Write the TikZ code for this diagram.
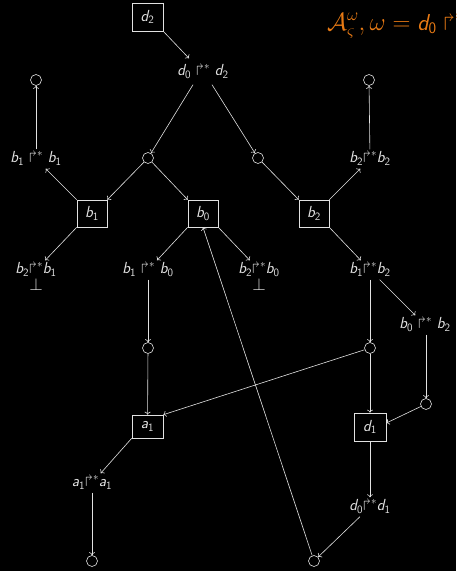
\documentclass[tikz,border=0pt]{standalone}
\usepackage{amsmath}
\usepackage{amssymb}
\usetikzlibrary{arrows.meta}
\definecolor{fg}{RGB}{225,225,225}
\definecolor{ttl}{RGB}{232,122,20}
\newcommand{\rr}{\mathrel{\Rsh^{*}}}
\newcommand{\rt}{{\Rsh^{*}}}
\newcommand{\V}[2]{\text{\itshape #1}_{\text{#2}}}
\begin{document}
\begin{tikzpicture}[x=1pt,y=-1pt,
  every node/.style={text=fg, font=\fontsize{16}{18}\selectfont\sffamily},
  box/.style={draw=fg, line width=0.6pt, inner sep=0pt, minimum width=30pt, minimum height=27pt},
  lab/.style={inner sep=2pt, text height=11pt, text depth=4pt},
  st/.style={draw=fg, line width=0.6pt, circle, inner sep=0pt, minimum size=11pt},
  ar/.style={draw=fg, line width=0.6pt, -{To[length=3pt,width=6pt]}}]
\useasboundingbox (0,0) rectangle (456,571);
\fill[black] (0,0) rectangle (456,571);
\clip (0,0) rectangle (456,571);

% title
\node[anchor=base west, inner sep=0pt, text=ttl, font=\fontsize{23}{26}\selectfont\sffamily] (title) at (327,30)
  {$\mathcal{A}^{\omega}_{\varsigma}, \omega = \V{d}{0} \rr \V{d}{2}$};

% boxes
\node[box, minimum width=31pt, minimum height=28pt] (d2) at (147.5,17) {$\V{d}{2}$};
\node[box] (b1) at (92,213.5) {$\V{b}{1}$};
\node[box] (b0) at (203,213.5) {$\V{b}{0}$};
\node[box] (b2) at (314,213.5) {$\V{b}{2}$};
\node[box, minimum width=31pt, minimum height=23pt] (a1) at (147.5,426.5) {$\V{a}{1}$};
\node[box, minimum width=32pt, minimum height=28pt] (d1) at (370,427) {$\V{d}{1}$};

% labels
\node[lab] (ld0d2) at (203,72) {$\V{d}{0} \rr \V{d}{2}$};
\node[lab] (lb1b1) at (36,159) {$\V{b}{1} \rr \V{b}{1}$};
\node[lab] (lb2b2) at (370,159) {$\V{b}{2}\rt \V{b}{2}$};
\node[lab] (lb2b1) at (36,270) {$\V{b}{2}\rt \V{b}{1}$};
\node (bot1) at (36,284) {$\bot$};
\node[lab] (lb1b0) at (148,270) {$\V{b}{1} \rr \V{b}{0}$};
\node[lab] (lb2b0) at (259,270) {$\V{b}{2}\rt \V{b}{0}$};
\node (bot2) at (259,284) {$\bot$};
\node[lab] (lb1b2) at (370,270) {$\V{b}{1}\rt \V{b}{2}$};
\node[lab] (lb0b2) at (425,325) {$\V{b}{0} \rr \V{b}{2}$};
\node[lab] (la1a1) at (92,483) {$\V{a}{1}\rt \V{a}{1}$};
\node[lab] (ld0d1) at (370,507) {$\V{d}{0}\rt \V{d}{1}$};

% states
\node[st] (s1) at (36,80) {};
\node[st] (s2) at (369,80) {};
\node[st] (s3) at (148,158) {};
\node[st] (s4) at (258,158) {};
\node[st] (s5) at (148,348) {};
\node[st] (s6) at (370,348) {};
\node[st] (s7) at (426,404) {};
\node[st] (s8) at (92,561) {};
\node[st] (s9) at (314,561) {};

% edges
\draw[ar] (d2.south east) -- ([xshift=-14pt,yshift=4pt]ld0d2.north);
\draw[ar] ([xshift=-10pt,yshift=-3pt]ld0d2.south) -- (s3);
\draw[ar] ([xshift=9pt,yshift=-3pt]ld0d2.south) -- (s4);
\draw[ar] (s3) -- (b1.north east);
\draw[ar] (s3) -- (b0.north west);
\draw[ar] (s4) -- (b2.north west);
\draw[ar] (b1.north west) -- (lb1b1);
\draw[ar] (b1.south west) -- (lb2b1);
\draw[ar] (b0.south west) -- (lb1b0);
\draw[ar] (b0.south east) -- (lb2b0);
\draw[ar] (b2.north east) -- (lb2b2);
\draw[ar] (b2.south east) -- (lb1b2);
\draw[ar] (lb1b1) -- (s1);
\draw[ar] (lb2b2) -- (s2);
\draw[ar] (lb1b0) -- (s5);
\draw[ar] (s5) -- (a1);
\draw[ar] (lb1b2) -- (s6);
\draw[ar] (lb1b2) -- (lb0b2);
\draw[ar] (lb0b2.south -| s7) -- (s7);
\draw[ar] (s7) -- ([yshift=4pt]d1.east);
\draw[ar] (s6) -- (d1);
\draw[ar] (s6) -- (a1.north east);
\draw[ar] (a1.south west) -- (la1a1);
\draw[ar] (la1a1) -- (s8);
\draw[ar] (d1) -- (ld0d1);
\draw[ar] (ld0d1) -- (s9);
\draw[ar] (s9) -- (b0.south);
\end{tikzpicture}
\end{document}
